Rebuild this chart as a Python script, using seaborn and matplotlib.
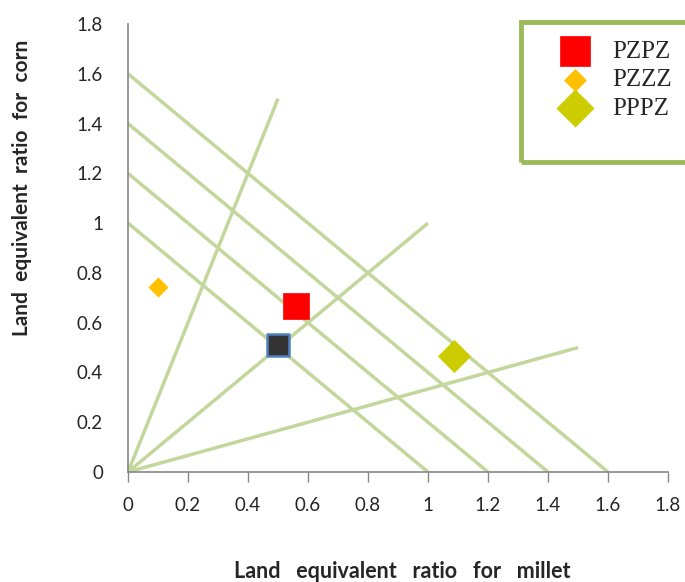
import matplotlib
matplotlib.use("Agg")
import matplotlib.pyplot as plt
import matplotlib.patches as mpatches
from matplotlib.font_manager import FontProperties
import seaborn as sns
import pandas as pd

# Data
treatments = ["PZPZ", "PZZZ", "PPPZ", "ref"]
ler_millet = [0.56, 0.10, 1.087, 0.50]
ler_corn = [0.665, 0.745, 0.468, 0.51]

# iso-LER lines (x + y = total)
iso_totals = [1.0, 1.2, 1.4, 1.6]
# rays from origin to these end points
ray_x = [0.5, 1.0, 1.5]
ray_y = [1.5, 1.0, 0.5]

x_ticks = [0, 0.2, 0.4, 0.6, 0.8, 1, 1.2, 1.4, 1.6, 1.8]
y_ticks = [0, 0.2, 0.4, 0.6, 0.8, 1, 1.2, 1.4, 1.6, 1.8]

sns.set_theme(style="white")
plt.rcParams['font.family'] = ['Lato', 'DejaVu Sans']

fig = plt.figure(figsize=(6.85, 5.82), dpi=100)
ax = fig.add_axes([128/685, 1-472/582, (668-128)/685, (472-24)/582])

line_col = "#C3D69B"
for t in iso_totals:
    ax.plot([0, t], [t, 0], color=line_col, lw=2.5, zorder=1, solid_capstyle='butt')
for rx, ry in zip(ray_x, ray_y):
    ax.plot([0, rx], [0, ry], color=line_col, lw=2.5, zorder=1, solid_capstyle='butt')

df = pd.DataFrame({"millet": ler_millet, "corn": ler_corn, "treatment": treatments})

styles = {
    "PZPZ": dict(marker="s", s=340, color="#FF0000", edgecolor="#FF0000", linewidth=0.5),
    "PZZZ": dict(marker="D", s=95, color="#FFC000", edgecolor="#FFC000", linewidth=0.5),
    "PPPZ": dict(marker="D", s=270, color="#CCCC00", edgecolor="#CCCC00", linewidth=0.5),
    "ref": dict(marker="s", s=250, color="#333333", edgecolor="#4F81BD", linewidth=1.8),
}
for tr in treatments:
    sub = df[df.treatment == tr]
    st = styles[tr]
    sns.scatterplot(data=sub, x="millet", y="corn", ax=ax, zorder=3,
                    label=(tr if tr != "ref" else None), legend=False, **st)

ax.set_xlim(0, 1.8)
ax.set_ylim(0, 1.8)
ax.set_xticks(x_ticks)
ax.set_yticks(y_ticks)
ax.set_xticklabels([f"{v:g}" for v in x_ticks], fontsize=13.5)
ax.set_yticklabels([f"{v:g}" for v in y_ticks], fontsize=13.5)
ax.tick_params(axis='x', bottom=True, length=7, width=1, color="#868686", pad=11, direction='out')
ax.tick_params(axis='y', left=False, pad=12)
for side in ["top", "right"]:
    ax.spines[side].set_visible(False)
for side in ["left", "bottom"]:
    ax.spines[side].set_color("#868686")
    ax.spines[side].set_linewidth(1.2)

ax.set_xlabel("Land   equivalent   ratio   for   millet", fontsize=15.5, fontweight="bold")
ax.set_ylabel("Land  equivalent  ratio  for  corn", fontsize=15, fontweight="bold")
ax.xaxis.set_label_coords(0.507, -(572-472)/448, transform=ax.transAxes)
ax.yaxis.set_label_coords(-(128-22)/540, (472-188)/448, transform=ax.transAxes)
ax.xaxis.label.set_va("center")
ax.yaxis.label.set_va("center")

# legend frame
rect = mpatches.Rectangle((521/685, 1-162/582), 200/685, (162-22)/582, transform=fig.transFigure,
                          fill=False, edgecolor="#9BBB59", linewidth=3.5, clip_on=False)
fig.patches.append(rect)

handles, labels = ax.get_legend_handles_labels()
leg_font = FontProperties(family=['Liberation Serif', 'DejaVu Serif'], size=18)
leg = fig.legend(handles, labels, loc="upper left", bbox_to_anchor=(545/685, 1-35/582),
                 frameon=False, prop=leg_font,
                 labelspacing=0.25, handletextpad=0.5, borderpad=0.2, borderaxespad=0,
                 markerscale=1.15)

fig.savefig("out.png", dpi=100)
